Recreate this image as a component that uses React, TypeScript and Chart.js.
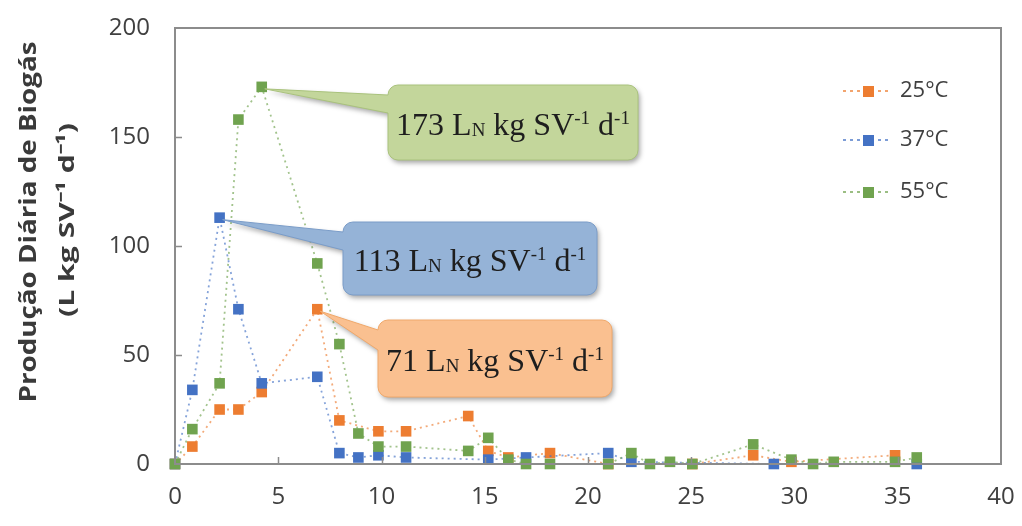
import React, { useEffect, useRef } from 'react';
import { Chart, registerables } from 'chart.js';

Chart.register(...registerables);

// ---- data ----
const seriesLabels = ['25°C', '37°C', '55°C'];
const seriesColors = ['#ED7D31', '#4472C4', '#70A34F'];

const days25 = [0, 0.84, 2.16, 3.07, 4.2, 6.89, 7.96, 9.85, 11.19, 14.2, 15.17, 16.14, 18.16, 20.98, 25.05, 28.0, 29.85, 34.87];
const prod25 = [0, 8, 25, 25, 33, 71, 20, 15, 15, 22, 6, 3, 5, 0, 0, 4, 1, 4];

const days37 = [0, 0.84, 2.16, 3.07, 4.2, 6.89, 7.96, 8.88, 9.85, 11.19, 15.17, 17.0, 20.98, 22.1, 29.0, 35.92];
const prod37 = [0, 34, 113, 71, 37, 40, 5, 3, 4, 3, 2, 3, 5, 1, 0, 0];

const days55 = [0, 0.84, 2.16, 3.07, 4.2, 6.89, 7.96, 8.88, 9.85, 11.19, 14.2, 15.17, 16.14, 17.0, 18.16, 20.98, 22.1, 23.0, 23.97, 25.05, 28.0, 29.85, 30.9, 31.9, 34.87, 35.92];
const prod55 = [0, 16, 37, 158, 173, 92, 55, 14, 8, 8, 6, 12, 2, 0, 0, 0, 5, 0, 1, 0, 9, 2, 0, 1, 1, 3];

const xMin = 0;
const xMax = 40;
const xStep = 5;
const yMin = 0;
const yMax = 200;
const yStep = 50;

const yTitleLines = ['Produção Diária de Biogás', '(L kg SV⁻¹ d⁻¹)'];
const peakValues = ['71', '113', '173'];

const allDays = [days25, days37, days55];
const allProd = [prod25, prod37, prod55];

function hexToRgba(hex: string, a: number) {
  const n = parseInt(hex.slice(1), 16);
  return `rgba(${(n >> 16) & 255},${(n >> 8) & 255},${n & 255},${a})`;
}

// callout boxes (presentation only)
const calloutStyles = [
  { series: 0, box: { x: 378, y: 320, w: 234, h: 77 }, base: [330, 350], fill: '#FAC090', stroke: '#F0A86A' },
  { series: 1, box: { x: 343, y: 222, w: 254, h: 73 }, base: [232, 250], fill: '#95B3D7', stroke: '#7A9CC8' },
  { series: 2, box: { x: 388, y: 85, w: 250, h: 75 }, base: [95, 113], fill: '#C3D69B', stroke: '#A9C27C' },
];

const decorPlugin = {
  id: 'decor',
  afterDatasetsDraw(chart: any) {
    const ctx: CanvasRenderingContext2D = chart.ctx;
    const { left, right, top, bottom } = chart.chartArea;
    const xs = chart.scales.x;
    const ys = chart.scales.y;

    // plot border
    ctx.save();
    ctx.strokeStyle = '#8C8C8C';
    ctx.lineWidth = 2;
    ctx.strokeRect(left, top, right - left, bottom - top);
    // inside tick marks
    ctx.lineWidth = 1.5;
    ctx.beginPath();
    for (let v = xMin + xStep; v < xMax; v += xStep) {
      const px = Math.round(xs.getPixelForValue(v)) + 0.5;
      ctx.moveTo(px, bottom);
      ctx.lineTo(px, bottom - 7);
    }
    for (let v = yMin + yStep; v < yMax; v += yStep) {
      const py = Math.round(ys.getPixelForValue(v)) + 0.5;
      ctx.moveTo(left, py);
      ctx.lineTo(left + 7, py);
    }
    ctx.stroke();
    ctx.restore();

    // callouts
    calloutStyles.forEach((c, k) => {
      const vals = allProd[c.series];
      let mi = 0;
      vals.forEach((v, i) => { if (v > vals[mi]) mi = i; });
      const px = xs.getPixelForValue(allDays[c.series][mi]);
      const py = ys.getPixelForValue(vals[mi]);
      const { x, y, w, h } = c.box;
      const r = 10;
      ctx.save();
      ctx.beginPath();
      ctx.moveTo(x + r, y);
      ctx.lineTo(x + w - r, y);
      ctx.arcTo(x + w, y, x + w, y + r, r);
      ctx.lineTo(x + w, y + h - r);
      ctx.arcTo(x + w, y + h, x + w - r, y + h, r);
      ctx.lineTo(x + r, y + h);
      ctx.arcTo(x, y + h, x, y + h - r, r);
      ctx.lineTo(x, c.base[1]);
      ctx.lineTo(px + 3, py + 2);
      ctx.lineTo(x, c.base[0]);
      ctx.lineTo(x, y + r);
      ctx.arcTo(x, y, x + r, y, r);
      ctx.closePath();
      ctx.shadowColor = 'rgba(0,0,0,0.35)';
      ctx.shadowBlur = 5;
      ctx.shadowOffsetX = 2;
      ctx.shadowOffsetY = 3;
      ctx.fillStyle = c.fill;
      ctx.fill();
      ctx.shadowColor = 'transparent';
      ctx.strokeStyle = c.stroke;
      ctx.lineWidth = 1;
      ctx.stroke();

      // text
      const big = 32;
      const small = 19;
      const segs = [
        { t: peakValues[k] + ' L', s: big, dy: 0 },
        { t: 'N', s: small, dy: 1 },
        { t: ' kg SV', s: big, dy: 0 },
        { t: '-1', s: small, dy: -11 },
        { t: ' d', s: big, dy: 0 },
        { t: '-1', s: small, dy: -11 },
      ];
      let total = 0;
      segs.forEach((sg) => {
        ctx.font = `${sg.s}px "Liberation Serif", serif`;
        total += ctx.measureText(sg.t).width;
      });
      let cx = x + w / 2 - total / 2;
      const baseY = y + h / 2 + 12;
      ctx.fillStyle = '#1E1E1E';
      ctx.textBaseline = 'alphabetic';
      ctx.textAlign = 'left';
      segs.forEach((sg) => {
        ctx.font = `${sg.s}px "Liberation Serif", serif`;
        ctx.fillText(sg.t, cx, baseY + sg.dy);
        cx += ctx.measureText(sg.t).width;
      });
      ctx.restore();
    });

    // legend
    const legendY = [91, 140, 192];
    ctx.save();
    seriesLabels.forEach((lab, i) => {
      const ly = legendY[i];
      ctx.strokeStyle = hexToRgba(seriesColors[i], 0.7);
      ctx.lineWidth = 2;
      ctx.setLineDash([3, 4]);
      ctx.beginPath();
      ctx.moveTo(843, ly);
      ctx.lineTo(890, ly);
      ctx.stroke();
      ctx.setLineDash([]);
      ctx.fillStyle = seriesColors[i];
      ctx.fillRect(863, ly - 5, 11, 11);
      ctx.fillStyle = '#404040';
      ctx.font = '22px "Open Sans", sans-serif';
      ctx.textBaseline = 'middle';
      ctx.textAlign = 'left';
      ctx.fillText(lab, 900, ly);
    });
    ctx.restore();

    // y axis title (two lines, rotated)
    ctx.save();
    ctx.fillStyle = '#3A3A3A';
    ctx.textAlign = 'center';
    ctx.textBaseline = 'middle';
    const titleSpecs = [
      { cx: 29, cy: 222, len: 361, size: 23 },
      { cx: 68, cy: 220, len: 194, size: 22 },
    ];
    yTitleLines.forEach((t, i) => {
      const sp = titleSpecs[i];
      ctx.font = `bold ${sp.size}px "Open Sans", sans-serif`;
      const wM = ctx.measureText(t).width;
      ctx.save();
      ctx.translate(sp.cx, sp.cy);
      ctx.rotate(-Math.PI / 2);
      ctx.scale(sp.len / wM, 1);
      ctx.fillText(t, 0, 0);
      ctx.restore();
    });
    ctx.restore();
  },
};

export default function App() {
  const ref = useRef<HTMLCanvasElement | null>(null);

  useEffect(() => {
    if (!ref.current) return;
    const orders = [2, 1, 0];
    const chart = new Chart(ref.current, {
      type: 'scatter',
      data: {
        datasets: seriesLabels.map((lab, i) => ({
          label: lab,
          data: allDays[i].map((d, j) => ({ x: d, y: allProd[i][j] })),
          showLine: true,
          borderColor: hexToRgba(seriesColors[i], 0.65),
          borderWidth: 1.8,
          borderDash: [2, 4],
          tension: 0,
          pointStyle: 'rect',
          pointRadius: 7.5,
          pointBackgroundColor: seriesColors[i],
          pointBorderColor: seriesColors[i],
          pointBorderWidth: 0,
          clip: false,
          order: orders[i],
        })),
      },
      options: {
        animation: false,
        responsive: true,
        maintainAspectRatio: false,
        layout: { padding: { top: 28, right: 21, left: 0, bottom: 0 } },
        plugins: {
          legend: { display: false },
          tooltip: { enabled: false },
        },
        scales: {
          x: {
            type: 'linear',
            min: xMin,
            max: xMax,
            ticks: {
              stepSize: xStep,
              color: '#404040',
              font: { family: '"Open Sans", sans-serif', size: 24 },
              padding: 19,
            },
            grid: { display: false, drawTicks: false },
            border: { display: false },
            afterFit: (s: any) => { s.height = 62; s.paddingLeft = 0; s.paddingRight = 0; },
          },
          y: {
            type: 'linear',
            min: yMin,
            max: yMax,
            ticks: {
              stepSize: yStep,
              color: '#404040',
              font: { family: '"Open Sans", sans-serif', size: 24 },
              padding: 25,
            },
            grid: { display: false, drawTicks: false },
            border: { display: false },
            afterFit: (s: any) => { s.width = 175; s.paddingTop = 0; s.paddingBottom = 0; },
          },
        },
      },
      plugins: [decorPlugin],
    } as any);
    return () => chart.destroy();
  }, []);

  return (
    <div style={{ position: 'absolute', left: 0, top: 0, width: 1022, height: 526, background: '#fff' }}>
      <canvas ref={ref} />
    </div>
  );
}
